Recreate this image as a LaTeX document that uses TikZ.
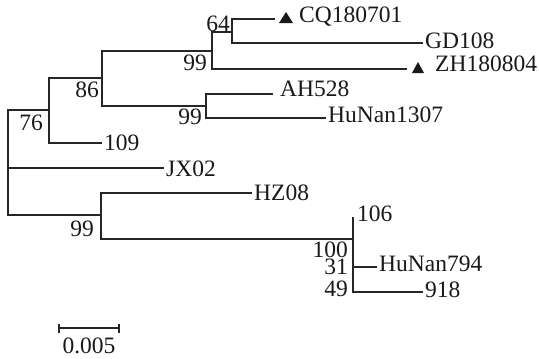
\documentclass[tikz,border=0pt]{standalone}
\usepackage{fontspec}
\setmainfont{Liberation Serif}
\begin{document}
\begin{tikzpicture}[x=1pt,y=-1pt,
  br/.style={line width=1.1pt, draw=black!85},
  lab/.style={anchor=base west, inner sep=0pt, font=\fontsize{23.5}{26}\selectfont, text=black!90},
  bs/.style={anchor=base east, inner sep=0pt, text depth=0pt, font=\fontsize{23.5}{26}\selectfont, text=black!90},
  tri/.style={fill=black!90}]
\useasboundingbox (0,0) rectangle (539,359);
% internal nodes
\coordinate (root) at (8,162);
\coordinate (n76) at (49,110);
\coordinate (n86) at (102,78);
\coordinate (n99a) at (212,51);
\coordinate (n64) at (232,32);
\coordinate (n99c) at (206,106);
\coordinate (n99b) at (101,215);
\coordinate (n100) at (353,239);
% leaf tips
\coordinate (tCQ) at (275,19);
\coordinate (tGD) at (423,43);
\coordinate (tZH) at (407,69);
\coordinate (tAH) at (273,94);
\coordinate (tHN1307) at (326,118);
\coordinate (t109) at (102,143);
\coordinate (tJX) at (164,168);
\coordinate (tHZ) at (252,193);
\coordinate (t106) at (353,217);
\coordinate (tHN794) at (377,267);
\coordinate (t918) at (423,292);
% branches
\draw[br] (root) |- (n76);
\draw[br] (root) |- (tJX);
\draw[br] (root) |- (n99b);
\draw[br] (n76) |- (n86);
\draw[br] (n76) |- (t109);
\draw[br] (n86) |- (n99a);
\draw[br] (n86) |- (n99c);
\draw[br] (n99a) |- (n64);
\draw[br] (n99a) |- (tZH);
\draw[br] (n64) |- (tCQ);
\draw[br] (n64) |- (tGD);
\draw[br] (n99c) |- (tAH);
\draw[br] (n99c) |- (tHN1307);
\draw[br] (n99b) |- (tHZ);
\draw[br] (n99b) |- (n100);
\draw[br] (n100) |- (t106);
\draw[br] (n100) |- (tHN794);
\draw[br] (n100) |- (t918);
% markers
\fill[tri] (279,23) -- (293,23) -- (286,12) -- cycle;
\fill[tri] (412,73) -- (424,73) -- (418,62) -- cycle;
% leaf labels
\node[lab] (lCQ) at (299,22.5) {CQ180701};
\node[lab] (lGD) at (425,48) {GD108};
\node[lab] (lZH) at (435,71.5) {ZH180804};
\node[lab] (lAH) at (280,96.5) {AH528};
\node[lab] (lHN1307) at (328,122.5) {HuNan1307};
\node[lab] (l109) at (104,150) {109};
\node[lab] (lJX) at (166,176) {JX02};
\node[lab] (lHZ) at (254,200) {HZ08};
\node[lab] (l106) at (357,221.5) {106};
\node[lab] (lHN794) at (379,271.5) {HuNan794};
\node[lab] (l918) at (425,297) {918};
% bootstrap values
\node[bs] (b64) at (230,31) {64};
\node[bs] (b99a) at (207,70) {99};
\node[bs] (b86) at (99,97.5) {86};
\node[bs] (b76) at (43,130) {76};
\node[bs] (b99c) at (202,124.5) {99};
\node[bs] (b99b) at (94,236.5) {99};
\node[bs] (b100) at (348,257.5) {100};
\node[bs] (b31) at (348,274.5) {31};
\node[bs] (b49) at (348,296) {49};
% scale bar
\coordinate (sL) at (59,328);
\coordinate (sR) at (119,328);
\draw[br] (sL) -- (sR);
\draw[br] ([yshift=-4.5pt]sL) -- ([yshift=4.5pt]sL);
\draw[br] ([yshift=-4.5pt]sR) -- ([yshift=4.5pt]sR);
\node[lab, anchor=base] (lscale) at (89,353) {0.005};
\end{tikzpicture}
\end{document}
